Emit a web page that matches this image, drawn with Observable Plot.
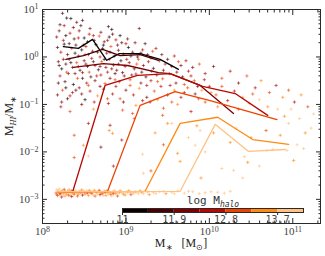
<!DOCTYPE html>
<html><head><meta charset="utf-8">
<script src="https://cdn.jsdelivr.net/npm/d3@7"></script>
<script src="https://cdn.jsdelivr.net/npm/@observablehq/plot@0.6"></script>
<style>
body{margin:0;background:#fff}
#wrap{position:relative;width:325px;height:256px}
#wrap svg{position:absolute;left:0;top:0}
</style></head><body><div id="wrap"></div>
<script>
// halo-mass bins (log M_halo) and their colours
const binEdges = [11, 11.45, 11.9, 12.35, 12.8, 13.25, 13.7, 14.15];
const binColors = ["#0a0000", "#4a0000", "#800000", "#b80800", "#ec4300", "#ff8a14", "#ffc283"];
const cbarTicks = [11, 11.9, 12.8, 13.7];

// axes
const xDomain = [1e8, 2.15e11];
const yDomain = [3.1e-4, 10];
const xMajor = [1e8, 1e9, 1e10, 1e11];
const yMajor = [1e-3, 1e-2, 1e-1, 1, 10];

// median lines per halo-mass bin: log10 M* and log10 (M_HI/M*)
const lineLogMass = [
  [8.25, 8.43, 8.60, 8.77, 8.92, 9.17, 9.41, 9.63],
  [8.28, 8.49, 8.72, 8.93, 9.17, 9.39],
  [8.37, 8.73, 9.02, 9.39, 9.53, 9.89, 10.29],
  [8.19, 8.36, 8.75, 9.14, 9.53, 9.92, 10.31, 10.70],
  [8.19, 8.78, 9.17, 9.59, 10.01, 10.81],
  [8.19, 9.23, 9.65, 10.10, 10.52, 10.95],
  [8.19, 9.65, 10.07, 10.47, 10.91]
];
const lineLogFrac = [
  [0.22, 0.18, 0.37, -0.07, 0.07, 0.07, -0.05, -0.26],
  [-0.05, 0.03, 0.16, 0.03, 0.05, -0.07],
  [-0.22, -0.14, -0.18, -0.33, -0.35, -0.60, -1.19],
  [-2.85, -2.85, -0.60, -0.39, -0.35, -0.62, -0.77, -1.23],
  [-2.85, -2.83, -1.02, -0.73, -0.92, -1.32],
  [-2.84, -2.83, -1.40, -1.27, -1.74, -1.84],
  [-2.84, -2.83, -1.42, -1.99, -1.95]
];

// individual galaxies [log10 M*, log10 (M_HI/M*), bin]
const cloudPoints = [
  [8.24,0.92,1],[8.34,0.81,0],[8.41,0.73,2],[8.26,0.66,3],[8.48,0.77,1],[8.79,0.64,1],[8.83,0.58,0],[9.16,0.60,2],
  [8.20,0.55,2],[8.28,0.45,0],[8.33,0.50,3],[8.38,0.38,1],[8.44,0.55,2],[8.50,0.40,0],[8.56,0.48,3],[8.62,0.35,1],
  [8.68,0.44,4],[8.74,0.32,2],[8.80,0.42,0],[8.88,0.36,3],[8.95,0.30,1],[9.02,0.38,2],
  [8.18,0.20,1],[8.22,0.10,3],[8.26,0.27,0],[8.30,0.05,2],[8.35,0.18,4],[8.40,0.25,1],[8.43,0.02,2],[8.47,0.15,0],
  [8.52,0.22,3],[8.55,0.05,1],[8.60,0.12,2],[8.64,0.26,0],[8.69,0.00,3],[8.72,0.18,1],[8.77,0.08,2],[8.82,0.22,4],
  [8.86,0.02,1],[8.91,0.14,2],[8.97,0.06,3],[9.03,0.20,0],[9.08,0.10,2],[9.14,0.00,1],[9.20,0.15,3],[9.26,0.05,2],[9.32,0.12,4],
  [8.19,-0.10,2],[8.23,-0.25,0],[8.28,-0.15,1],[8.32,-0.05,3],[8.36,-0.22,2],[8.41,-0.12,4],[8.45,-0.28,1],[8.50,-0.08,2],
  [8.54,-0.20,0],[8.59,-0.03,3],[8.63,-0.18,2],[8.67,-0.27,1],[8.71,-0.10,4],[8.76,-0.22,2],[8.80,-0.05,3],[8.85,-0.17,1],
  [8.89,-0.28,2],[8.94,-0.08,0],[8.99,-0.20,3],[9.04,-0.12,2],[9.10,-0.25,1],[9.15,-0.05,4],[9.21,-0.18,2],[9.27,-0.10,3],
  [9.33,-0.24,1],[9.40,-0.08,2],[9.47,-0.15,3],[9.55,-0.20,1],[9.63,-0.10,4],
  [8.21,-0.40,3],[8.27,-0.52,1],[8.31,-0.35,2],[8.37,-0.58,0],[8.42,-0.45,4],[8.48,-0.33,2],[8.53,-0.55,3],[8.58,-0.42,1],
  [8.63,-0.50,2],[8.70,-0.38,3],[8.75,-0.56,4],[8.81,-0.45,2],[8.87,-0.35,1],[8.92,-0.52,3],[8.98,-0.40,2],[9.05,-0.48,4],
  [9.12,-0.36,3],[9.18,-0.55,2],[9.24,-0.42,1],[9.30,-0.50,3],[9.37,-0.38,2],[9.44,-0.46,4],[9.52,-0.35,3],[9.60,-0.55,2],
  [9.68,-0.42,1],[9.75,-0.30,3],[9.82,-0.50,4],
  [8.18,-0.80,2],[8.24,-0.70,4],[8.30,-0.88,1],[8.36,-0.75,3],[8.44,-0.65,2],[8.51,-0.90,0],[8.57,-0.72,3],[8.66,-0.82,5],
  [8.73,-0.68,2],[8.84,-0.78,3],[8.93,-0.88,4],[9.00,-0.70,2],[9.09,-0.80,3],[9.16,-0.66,5],[9.25,-0.85,2],[9.34,-0.72,4],
  [9.42,-0.62,3],[9.50,-0.80,2],[9.58,-0.70,5],[9.66,-0.85,3],[9.74,-0.65,4],[9.83,-0.78,2],[9.91,-0.70,5],[10.00,-0.62,3],[10.08,-0.80,4]
];
const cloudPoints2 = [
  [8.17,0.42,2],[8.21,0.68,1],[8.25,0.35,3],[8.29,0.82,0],[8.32,0.28,1],[8.37,0.62,2],[8.39,0.08,0],[8.43,0.40,3],
  [8.46,0.66,1],[8.49,0.25,2],[8.51,0.05,4],[8.54,0.32,0],[8.57,0.60,2],[8.61,0.45,3],[8.66,0.10,1],[8.70,0.52,2],
  [8.73,0.25,0],[8.78,0.35,3],[8.81,0.10,2],[8.84,0.48,1],[8.90,0.25,2],[8.93,0.45,0],[9.00,0.28,3],[9.06,0.02,1],
  [9.11,0.30,2],[9.18,0.08,0],[9.23,0.28,1],[9.30,-0.02,2],[9.36,0.18,3],[9.43,0.05,2],[9.50,-0.05,1],[9.58,0.02,3],
  [9.66,-0.18,2],[9.72,-0.08,3],[9.80,-0.22,2],[9.88,-0.15,4],
  [8.20,-0.18,1],[8.25,-0.05,2],[8.29,-0.32,4],[8.34,-0.12,0],[8.39,-0.35,2],[8.43,-0.20,3],[8.48,-0.45,1],[8.52,-0.15,2],
  [8.56,-0.32,4],[8.61,-0.10,1],[8.65,-0.40,3],[8.69,-0.20,2],[8.74,-0.05,0],[8.78,-0.32,3],[8.83,-0.25,2],[8.87,-0.48,4],
  [8.91,-0.15,2],[8.96,-0.33,1],[9.01,-0.05,3],[9.07,-0.38,2],[9.13,-0.15,4],[9.19,-0.32,1],[9.25,-0.60,3],[9.31,-0.30,2],
  [9.38,-0.52,4],[9.45,-0.28,2],[9.53,-0.60,3],[9.61,-0.32,2],[9.70,-0.58,4],[9.78,-0.40,3],[9.86,-0.62,2],[9.94,-0.48,3],
  [8.19,-0.55,1],[8.23,-0.95,2],[8.28,-0.65,0],[8.33,-0.82,3],[8.40,-0.70,1],[8.47,-0.78,2],[8.55,-0.60,4],[8.62,-0.95,3],
  [8.69,-0.62,2],[8.78,-0.88,4],[8.88,-0.62,3],[8.97,-0.95,2],[9.05,-0.60,4],[9.20,-0.92,3],[9.38,-0.90,5],[9.55,-0.95,4],
  [9.70,-0.75,3],[9.87,-0.88,4],[10.02,-0.75,5],[10.15,-0.62,4],[10.30,-0.72,3],[10.40,-0.85,5],[10.52,-0.78,4],[10.60,-0.90,6],
  [10.70,-1.05,5],[10.82,-1.10,6],[10.90,-1.25,5],[10.98,-1.10,6],[11.08,-1.30,6]
];
const midPoints = [
  [8.22,-1.05,3],[8.33,-1.15,4],[8.47,-1.00,2],[8.61,-1.10,5],[8.79,-0.98,3],[8.96,-1.12,4],[9.12,-1.02,5],[9.29,-0.95,3],
  [9.45,-1.08,4],[9.62,-1.00,5],[9.78,-1.15,3],[9.95,-0.95,4],[10.10,-1.05,5],[10.22,-0.92,3],[10.35,-1.10,4],[10.48,-0.98,5],
  [9.95,-0.35,3],[10.05,-0.20,2],[10.15,-0.45,4],[10.25,-0.30,3],[10.35,-0.55,2],[10.45,-0.40,4],[10.55,-0.65,3],[10.62,-0.50,5],
  [10.72,-0.75,4],[10.80,-0.60,3],[10.88,-0.85,5],[10.95,-0.70,4],[11.02,-0.95,3],[11.10,-0.80,5],[11.18,-1.05,4],[11.25,-1.20,6],
  [8.55,-1.40,3],[8.38,-1.65,4],[8.70,-1.90,2],[8.80,-1.55,5],[8.95,-1.75,3],[9.10,-1.30,4],[9.20,-2.05,6],[9.35,-1.60,5],
  [9.45,-1.85,4],[9.55,-1.40,6],[9.65,-2.20,5],[9.75,-1.70,6],[9.85,-1.45,5],[9.95,-2.00,6],[10.05,-1.60,5],[10.15,-2.35,6],
  [10.25,-1.80,5],[10.32,-1.50,6],[10.42,-2.10,6],[10.50,-1.70,5],[10.60,-2.30,6],[10.68,-1.55,4],[10.76,-1.95,6],[10.85,-1.65,5],
  [10.95,-1.40,6],[11.05,-1.85,6],[11.15,-1.60,5],[11.22,-1.50,6],[10.40,-2.55,6],[9.90,-2.55,5],[9.30,-2.40,4],[8.85,-2.30,3],
  [8.38,-2.12,4],[8.49,-1.86,5],[8.55,-2.09,6],[8.81,-1.44,3],[9.08,-1.19,4],[8.84,-1.61,5],[9.21,-2.45,6],[9.62,-2.03,5],
  [9.83,-1.86,6],[10.29,-2.39,6],[10.46,-2.22,5],[10.69,-1.97,6],[10.93,-1.97,6],[11.01,-2.18,5],[11.13,-1.93,6],[9.44,-1.23,4],
  [9.50,-1.40,5],[9.89,-1.55,6]
];
const floorPoints = [
  [8.16,-2.86,5],[8.17,-2.80,6],[8.18,-2.92,4],[8.19,-2.84,5],[8.20,-2.78,6],[8.21,-2.90,5],[8.22,-2.85,4],[8.23,-2.95,3],
  [8.24,-2.82,6],[8.25,-2.88,5],[8.26,-2.79,4],[8.27,-2.93,5],[8.28,-2.86,6],[8.30,-2.83,5],[8.31,-2.91,4],[8.32,-2.80,5],
  [8.34,-2.87,6],[8.35,-2.94,3],[8.36,-2.84,5],[8.38,-2.89,4],[8.39,-2.81,6],[8.41,-2.86,5],[8.42,-2.93,4],[8.44,-2.83,5],
  [8.45,-2.88,6],[8.47,-2.80,5],[8.48,-2.91,3],[8.50,-2.85,4],[8.52,-2.87,5],[8.53,-2.82,6],[8.55,-2.92,5],[8.57,-2.86,4],
  [8.58,-2.84,5],[8.60,-2.89,6],[8.62,-2.81,5],[8.63,-2.93,4],[8.65,-2.86,5],[8.67,-2.83,6],[8.69,-2.90,3],[8.70,-2.85,5],
  [8.72,-2.88,4],[8.74,-2.82,6],[8.76,-2.92,5],[8.78,-2.86,5],[8.80,-2.84,6],[8.82,-2.90,4],[8.84,-2.85,5],[8.86,-2.81,6],
  [8.88,-2.88,5],[8.90,-2.93,4],[8.92,-2.86,5],[8.95,-2.84,6],[8.97,-2.89,5],[9.00,-2.85,6],[9.03,-2.82,5],[9.06,-2.90,4],
  [9.08,-2.86,6],[9.11,-2.84,5],[9.15,-2.88,6],[9.19,-2.85,5],[9.23,-2.82,6],[9.28,-2.90,5],[9.33,-2.86,6],[9.40,-2.84,6],
  [9.48,-2.88,5],[9.55,-2.85,6],[9.62,-2.82,6],[9.70,-2.87,6],[9.80,-2.84,6],[9.95,-2.86,6],[10.10,-2.85,6],[10.25,-2.83,6],
  [8.17,-2.89,4],[8.19,-2.81,6],[8.21,-2.87,3],[8.23,-2.83,5],[8.25,-2.91,6],[8.27,-2.84,4],[8.29,-2.89,5],[8.31,-2.86,6],
  [8.33,-2.92,5],[8.35,-2.82,4],[8.37,-2.88,5],[8.40,-2.84,6],[8.43,-2.89,5],[8.46,-2.85,4],[8.49,-2.82,6],[8.51,-2.89,5],
  [8.54,-2.86,3],[8.56,-2.81,5],[8.59,-2.87,4],[8.61,-2.91,6],[8.64,-2.84,5],[8.66,-2.89,6],[8.68,-2.81,4],[8.71,-2.87,5],
  [8.73,-2.92,6],[8.75,-2.85,3],[8.77,-2.82,5],[8.79,-2.89,6],[8.81,-2.86,5],[8.83,-2.93,6],[8.85,-2.88,4],[8.87,-2.84,5],
  [8.89,-2.86,6],[8.93,-2.82,5],[8.96,-2.87,6],[8.99,-2.91,5],[9.02,-2.86,6],[9.05,-2.84,5],[9.09,-2.88,6],[9.13,-2.85,6],
  [9.17,-2.82,5],[9.21,-2.88,6],[9.26,-2.85,6],[9.36,-2.88,6],[9.45,-2.83,6],[9.58,-2.88,6],[9.75,-2.83,6],[9.88,-2.88,6],
  [10.02,-2.84,6],[10.18,-2.87,6]
];

// ---------- build tables ----------
const pts = [...cloudPoints, ...cloudPoints2, ...midPoints, ...floorPoints].map(([m, f, b]) => ({m: 10 ** m, f: 10 ** f, bin: b}));
const lineRows = lineLogMass.flatMap((ms, b) => ms.map((m, i) => ({m: 10 ** m, f: 10 ** lineLogFrac[b][i], bin: b})));
const cbarRows = binColors.map((c, i) => ({lo: binEdges[i], hi: binEdges[i + 1], bin: i}));
const minorOf = ds => ds.flatMap(p => [2,3,4,5,6,7,8,9].map(k => k * p));
const xMinor = minorOf([1e8, 1e9, 1e10, 1e11]).filter(v => v <= xDomain[1]);
const yMinor = minorOf([1e-4, 1e-3, 1e-2, 1e-1, 1]).filter(v => v >= yDomain[0]);
const sup = v => "10^" + String(Math.round(Math.log10(v))).replace("-", "\u2212");
const colorScale = {type: "ordinal", domain: d3.range(7), range: binColors};
const ink = "#2a2a2a";
const blank = () => "";

const chart = Plot.plot({
  width: 325, height: 256,
  marginLeft: 42, marginRight: 5, marginTop: 9, marginBottom: 33,
  x: {type: "log", domain: xDomain},
  y: {type: "log", domain: yDomain},
  color: colorScale,
  style: {background: "transparent", fontFamily: "Liberation Serif, serif", fontSize: "11px", color: ink},
  marks: [
    Plot.dot(pts, {x: "m", y: "f", stroke: "bin", symbol: "plus", r: 1.15, strokeWidth: 0.7, strokeOpacity: 0.85}),
    Plot.line(lineRows, {x: "m", y: "f", z: "bin", stroke: "bin", strokeWidth: 1.3}),
    Plot.frame({stroke: ink}),
    Plot.axisX(xMinor, {anchor: "bottom", tickSize: 2.5, dy: -2.5, tickFormat: blank, label: null, stroke: ink}),
    Plot.axisX(xMajor, {anchor: "bottom", tickSize: 5, dy: -5, tickFormat: blank, label: null, stroke: ink}),
    Plot.axisX(xMinor, {anchor: "top", tickSize: 2.5, dy: 2.5, tickFormat: blank, label: null, stroke: ink}),
    Plot.axisX(xMajor, {anchor: "top", tickSize: 5, dy: 5, tickFormat: blank, label: null, stroke: ink}),
    Plot.axisY(yMinor, {anchor: "left", tickSize: 2.5, dx: 2.5, tickFormat: blank, label: null, stroke: ink}),
    Plot.axisY(yMajor, {anchor: "left", tickSize: 5, dx: 5, tickFormat: blank, label: null, stroke: ink}),
    Plot.axisY(yMinor, {anchor: "right", tickSize: 2.5, dx: -2.5, tickFormat: blank, label: null, stroke: ink}),
    Plot.axisY(yMajor, {anchor: "right", tickSize: 5, dx: -5, tickFormat: blank, label: null, stroke: ink}),
    Plot.axisX(xMajor, {anchor: "bottom", tickSize: 0, tickPadding: 4, tickFormat: sup, label: null, fill: "#444"}),
    Plot.axisY(yMajor, {anchor: "left", tickSize: 0, tickPadding: 4, tickFormat: sup, label: null, fill: "#444"})
  ]
});

const cbar = Plot.plot({
  width: 325, height: 256,
  marginLeft: 122, marginRight: 22, marginTop: 208, marginBottom: 44,
  x: {domain: [binEdges[0], binEdges[binEdges.length - 1]]},
  color: colorScale,
  style: {background: "transparent", fontFamily: "DejaVu Sans Mono, monospace", fontSize: "10px", color: ink},
  marks: [
    Plot.rect(cbarRows, {x1: "lo", x2: "hi", fill: "bin"}),
    Plot.frame({stroke: ink}),
    Plot.axisX(cbarTicks, {anchor: "bottom", tickSize: 3, tickPadding: 0, tickFormat: d => String(d), label: null, stroke: ink, fill: "#444"})
  ]
});

const wrap = document.getElementById("wrap");
wrap.appendChild(chart);
wrap.appendChild(cbar);

// superscript tick labels
d3.select(chart).selectAll("text").each(function () {
  const t = this.textContent;
  const m = /^10\^(.+)$/.exec(t);
  if (!m) return;
  const s = d3.select(this);
  s.text("10");
  s.append("tspan").attr("dy", "-0.45em").attr("font-size", "8px").text(m[1]);
});

// axis titles
const svgC = d3.select(chart);
const xt = svgC.append("text").attr("x", 181).attr("y", 247).attr("text-anchor", "middle")
  .attr("font-family", "Liberation Serif, serif").attr("font-size", 12).attr("fill", "#222");
xt.append("tspan").text("M");
xt.append("tspan").attr("dy", 3).attr("font-size", 8).text("\u2217");
xt.append("tspan").attr("dy", -3).text("\u2002 [M");
xt.append("tspan").attr("dy", 3).attr("font-size", 8).text("\u2299");
xt.append("tspan").attr("dy", -3).text("]");

const yt = svgC.append("text").attr("transform", "translate(13,116) rotate(-90)").attr("text-anchor", "middle")
  .attr("font-family", "Liberation Serif, serif").attr("font-size", 12).attr("fill", "#222");
yt.append("tspan").text("M");
yt.append("tspan").attr("dy", 3).attr("font-size", 8).attr("font-style", "italic").text("HI");
yt.append("tspan").attr("dy", -3).text("/M");
yt.append("tspan").attr("dy", 3).attr("font-size", 8).text("\u2217");

const ct = d3.select(cbar).append("text").attr("x", 213).attr("y", 204).attr("text-anchor", "middle")
  .attr("font-family", "DejaVu Sans Mono, monospace").attr("font-size", 11).attr("fill", "#333");
ct.append("tspan").text("log M");
ct.append("tspan").attr("dy", 3).attr("font-size", 8).attr("font-style", "italic").text("halo");
</script></body></html>
